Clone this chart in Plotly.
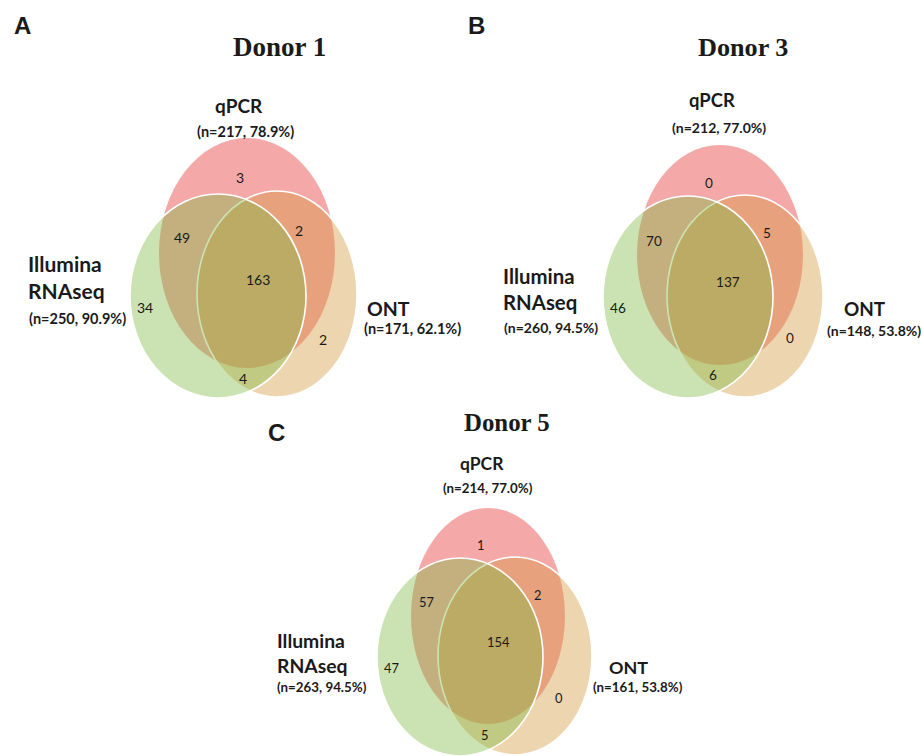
import plotly.graph_objects as go

# ---------------- data ----------------
donors = ["Donor 1", "Donor 3", "Donor 5"]
panel_letters = ["A", "B", "C"]
set_names = ["qPCR", "Illumina<br>RNAseq", "ONT"]
qpcr_n = [217, 212, 214]
qpcr_pct = [78.9, 77.0, 77.0]
illumina_n = [250, 260, 263]
illumina_pct = [90.9, 94.5, 94.5]
ont_n = [171, 148, 161]
ont_pct = [62.1, 53.8, 53.8]
# region counts
qpcr_only = [3, 0, 1]
qpcr_illumina = [49, 70, 57]
qpcr_ont = [2, 5, 2]
all_three = [163, 137, 154]
illumina_only = [34, 46, 47]
ont_only = [2, 0, 0]
illumina_ont = [4, 6, 5]

# ---------------- layout (page-pixel positions) ----------------
panels = [
    dict(letter=(22, 25), title=(279, 47), fs=1.0,
         red=(247, 253, 88, 115), green=(218, 296, 88, 102), tan=(277, 294, 80, 103),
         q_only=(240, 177), q_i=(182, 237), q_o=(299, 230), all3=(258, 279),
         i_only=(145, 307), o_only=(323, 339), i_o=(243, 378),
         q_lab=(239, 105), q_n=(245, 131),
         i_lab=(26, 277), i_n=(27, 318),
         o_lab=(388, 308), o_n=(412, 328, "center")),
    dict(letter=(476, 25), title=(743, 47), fs=0.97,
         red=(720, 255, 83, 110), green=(688, 297, 85, 101), tan=(745, 296, 78, 101),
         q_only=(709, 183), q_i=(654, 241), q_o=(767, 233), all3=(728, 282),
         i_only=(618, 308), o_only=(790, 338), i_o=(713, 375),
         q_lab=(712, 100), q_n=(719, 127),
         i_lab=(501, 289), i_n=(502, 327),
         o_lab=(865, 308), o_n=(923, 330, "right")),
    dict(letter=(276, 432), title=(507, 422), fs=0.92,
         red=(488, 616, 77, 108), green=(460, 657, 83, 99), tan=(515, 656, 77, 99),
         q_only=(480, 545), q_i=(426, 602), q_o=(537, 595), all3=(498, 642),
         i_only=(391, 668), o_only=(559, 698), i_o=(484, 735),
         q_lab=(482, 463), q_n=(488, 488),
         i_lab=(275, 653), i_n=(275, 687),
         o_lab=(628, 667), o_n=(638, 687, "center")),
]

RED = "rgba(233,81,81,0.5)"
TAN = "rgba(212,155,67,0.42)"
GREEN = "rgba(125,185,65,0.4)"
SANS = "Lato"
TXT = "#1a1a1a"

W, H = 924, 756

fig = go.Figure()
fig.add_trace(go.Scatter(x=[0, W], y=[0, H], mode="markers",
                         marker=dict(opacity=0), hoverinfo="skip", showlegend=False))

shapes = []
annotations = []


def ell(geom, fill, line):
    cx, cy, rx, ry = geom
    return dict(type="circle", xref="x", yref="y", x0=cx - rx, x1=cx + rx,
                y0=cy - ry, y1=cy + ry, fillcolor=fill, line=line, layer="above")


def ann(pos, text, size, family=SANS, bold=False, anchor="center"):
    t = f"<b>{text}</b>" if bold else text
    annotations.append(dict(x=pos[0], y=pos[1], xref="x", yref="y", text=t,
                            showarrow=False, xanchor=anchor, yanchor="middle",
                            align="left" if anchor == "left" else "center",
                            font=dict(family=family, size=size, color=TXT)))


for i, p in enumerate(panels):
    fs = p["fs"]
    shapes.append(ell(p["red"], RED, dict(width=0)))
    shapes.append(ell(p["tan"], TAN, dict(color="white", width=1.6)))
    shapes.append(ell(p["green"], GREEN, dict(color="white", width=1.6)))

    ann(p["letter"], panel_letters[i], 24, family="Liberation Sans", bold=True)
    ann(p["title"], donors[i], 27 * fs, family="Liberation Serif", bold=True)

    ann(p["q_lab"], set_names[0], 19 * fs, bold=True)
    ann(p["q_n"], f"(n={qpcr_n[i]}, {qpcr_pct[i]:.1f}%)", 14.5 * fs, bold=True)
    ann(p["i_lab"], set_names[1], 21 * fs, bold=True, anchor="left")
    ann(p["i_n"], f"(n={illumina_n[i]}, {illumina_pct[i]:.1f}%)", 14.5 * fs, bold=True, anchor="left")
    ann(p["o_lab"], set_names[2], 19.5 * fs, bold=True)
    ox, oy, oa = p["o_n"]
    ann((ox, oy), f"(n={ont_n[i]}, {ont_pct[i]:.1f}%)", 14.5 * fs, bold=True, anchor=oa)

    nfs = 14 * fs
    ann(p["q_only"], str(qpcr_only[i]), nfs)
    ann(p["q_i"], str(qpcr_illumina[i]), nfs)
    ann(p["q_o"], str(qpcr_ont[i]), nfs)
    ann(p["all3"], str(all_three[i]), nfs)
    ann(p["i_only"], str(illumina_only[i]), nfs)
    ann(p["o_only"], str(ont_only[i]), nfs)
    ann(p["i_o"], str(illumina_ont[i]), nfs)

fig.update_layout(
    width=W, height=H,
    margin=dict(l=0, r=0, t=0, b=0),
    paper_bgcolor="white", plot_bgcolor="white",
    xaxis=dict(range=[0, W], visible=False, fixedrange=True),
    yaxis=dict(range=[H, 0], visible=False, fixedrange=True),
    shapes=shapes, annotations=annotations, showlegend=False,
)

fig.write_html(
    "out.html",
    config={"displayModeBar": False},
    post_script="document.body.style.margin='0';document.body.style.overflow='hidden';",
)
